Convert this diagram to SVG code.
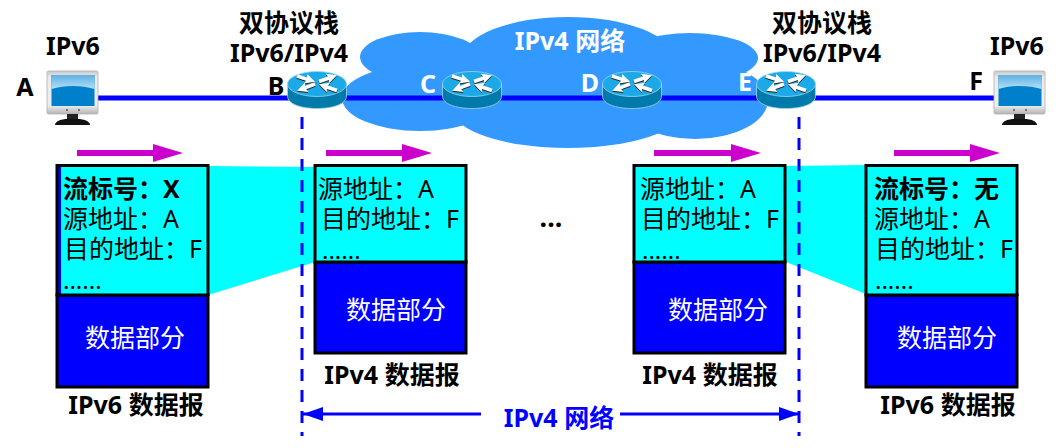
<svg xmlns="http://www.w3.org/2000/svg" xmlns:xlink="http://www.w3.org/1999/xlink" width="1060" height="448" viewBox="0 0 1060 448">
<style>
text{font-family:"Noto Sans","Noto Sans CJK SC",sans-serif;}
.lab{font-size:25px;font-weight:700;fill:#000;text-anchor:middle;}
.wlab{font-size:25px;font-weight:700;fill:#fff;text-anchor:middle;}
.row{font-size:25px;fill:#000;}
.rowb{font-size:25px;fill:#000;font-weight:700;}
.dots{font-size:24px;fill:#000;}
.data{font-size:25px;fill:#fff;text-anchor:middle;}
.cyan{fill:#00ffff;}
.blue{fill:#0000ff;stroke:#000;stroke-width:3;}
.hdr{fill:#00ffff;stroke:#000;stroke-width:3;}
.link{stroke:#0000ff;stroke-width:5;fill:none;}
.dash{stroke:#0000ff;stroke-width:3;stroke-dasharray:12 9;fill:none;}
.span{stroke:#0000ff;stroke-width:3;fill:none;}
.flow{fill:#cc00cc;}
</style>
<defs>
<linearGradient id="bezel" x1="0" y1="0" x2="0" y2="1"><stop offset="0" stop-color="#c8c8c8"/><stop offset="0.15" stop-color="#ececec"/><stop offset="0.8" stop-color="#eeeeee"/><stop offset="1" stop-color="#b4b4b4"/></linearGradient>
<linearGradient id="glass" x1="0" y1="0" x2="0" y2="1"><stop offset="0" stop-color="#5db0e6"/><stop offset="1" stop-color="#b5e0f5"/></linearGradient>
<marker id="spanHead" markerUnits="userSpaceOnUse" markerWidth="20" markerHeight="14" refX="20" refY="7" orient="auto-start-reverse"><path d="M0 0L20 7L0 14Z" fill="#0000ff"/></marker>
<!-- one white router arrow, tail at the origin, pointing along +x -->
<path id="turn" d="M0 -1.8L10 -1.8L9 -5L19 0L9 5L10 1.800L0 1.800Z"/>
<g id="turns">
<use xlink:href="#turn" href="#turn" transform="translate(-20,-21) rotate(18)"/>
<use xlink:href="#turn" href="#turn" transform="translate(2,-15.500) rotate(-19)"/>
<use xlink:href="#turn" href="#turn" transform="translate(-2,-13) rotate(159)"/>
<use xlink:href="#turn" href="#turn" transform="translate(20,-6.500) rotate(199)"/>
</g>
<g id="router">
<path d="M-29.5 -13V-1C-29.5 7 -16 11.500 0 11.500S29.500 7 29.500 -1V-13Z" fill="#0079ab" stroke="#9fd6ea" stroke-width="0.8"/>
<ellipse cx="0" cy="-13" rx="29.5" ry="12.500" fill="#1ba9e8" stroke="#9fd6ea" stroke-width="0.8"/>
<use xlink:href="#turns" href="#turns" y="1" fill="#222"/>
<use xlink:href="#turns" href="#turns" fill="#fff"/>
</g>
<g id="monitor">
<rect x="0" y="0" width="51" height="43" rx="1.500" fill="url(#bezel)" stroke="#b0b0b0" stroke-width="0.8"/>
<rect x="4.500" y="4" width="43" height="31" fill="#0080cb"/>
<path d="M4.500 4H47.500V18C34 14 18 14 4.500 18Z" fill="url(#glass)"/>
<circle cx="20" cy="39" r="1" fill="#555"/><circle cx="32" cy="39" r="1" fill="#555"/>
<rect x="20" y="43" width="11" height="5" fill="#222"/>
<path d="M8 54C8 50 15 48 20 48H31C36 48 43 50 43 54Z" fill="#111"/>
</g>
</defs>

<g id="cloud" fill="#3399ff">
<ellipse cx="568" cy="58" rx="105" ry="41"/>
<ellipse cx="420" cy="57" rx="60" ry="25"/>
<ellipse cx="690" cy="58" rx="68" ry="25"/>
<ellipse cx="420" cy="98" rx="78" ry="33"/>
<ellipse cx="568" cy="110" rx="115" ry="38"/>
<ellipse cx="695" cy="100" rx="73" ry="39"/>
<rect x="420" y="50" width="280" height="70"/>
<text class="wlab" x="570" y="50">IPv4 网络</text>
</g>

<g id="bands">
<path class="cyan" d="M208 166L315 167V262L208 295Z"/>
<path class="cyan" d="M786 166L866 165V294L786 262Z"/>
</g>

<g id="connectors">
<path class="link" d="M98 98H994"/>
<path class="dash" d="M302 117V436"/>
<path class="dash" d="M799 117V436"/>
<path class="span" d="M481 414H303" marker-end="url(#spanHead)"/>
<path class="span" d="M620 414H799" marker-end="url(#spanHead)"/>
</g>

<g id="hostA">
<use xlink:href="#monitor" href="#monitor" x="47" y="71"/>
<text class="lab" x="73" y="55">IPv6</text>
<text class="lab" x="25" y="96">A</text>
</g>
<g id="routerB">
<use xlink:href="#router" href="#router" x="317" y="97"/>
<text class="lab" x="289" y="32">双协议栈</text>
<text class="lab" x="289" y="62">IPv6/IPv4</text>
<text class="lab" x="276" y="95">B</text>
</g>
<g id="routerC">
<use xlink:href="#router" href="#router" x="472" y="97"/>
<text class="wlab" x="428" y="93">C</text>
</g>
<g id="routerD">
<use xlink:href="#router" href="#router" x="632" y="97"/>
<text class="wlab" x="590" y="92">D</text>
</g>
<g id="routerE">
<use xlink:href="#router" href="#router" x="786" y="97"/>
<text class="wlab" x="745" y="91">E</text>
<text class="lab" x="822" y="32">双协议栈</text>
<text class="lab" x="822" y="62">IPv6/IPv4</text>
</g>
<g id="hostF">
<use xlink:href="#monitor" href="#monitor" x="994" y="71"/>
<text class="lab" x="1017" y="55">IPv6</text>
<text class="lab" x="976" y="90">F</text>
</g>

<g id="flows">
<path class="flow" d="M77 150H153V144L183 153L153 162V156H77Z"/>
<path class="flow" d="M326 150H402V144L432 153L402 162V156H326Z"/>
<path class="flow" d="M654 150H731V144L761 153L731 162V156H654Z"/>
<path class="flow" d="M894 150H970V144L1000 153L970 162V156H894Z"/>
</g>

<g id="packetIPv6Left">
<rect class="blue" x="57" y="295" width="151" height="92"/>
<rect x="57" y="165.500" width="151" height="129.500" fill="#0000ff"/>
<rect class="cyan" x="61" y="167" width="146" height="127"/>
<rect x="57" y="165.500" width="151" height="129.500" fill="none" stroke="#000" stroke-width="3"/>
<text class="rowb" x="63" y="198">流标号：X</text>
<text class="row" x="63" y="228">源地址：A</text>
<text class="row" x="64" y="258">目的地址：F</text>
<text class="dots" x="63" y="289">......</text>
<text class="data" x="135" y="347">数据部分</text>
<text class="lab" x="136" y="414">IPv6 数据报</text>
</g>
<g id="packetIPv4B">
<rect class="blue" x="315" y="262" width="151" height="91"/>
<rect class="hdr" x="315" y="165.500" width="151" height="96.500"/>
<text class="row" x="318" y="198">源地址：A</text>
<text class="row" x="321" y="228">目的地址：F</text>
<text class="dots" x="322" y="259">......</text>
<text class="data" x="396" y="319">数据部分</text>
<text class="lab" x="392" y="384">IPv4 数据报</text>
</g>
<text id="ellipsis" x="551" y="227" font-size="27" font-weight="700" text-anchor="middle">...</text>
<g id="packetIPv4E">
<rect class="blue" x="634" y="262" width="151" height="91"/>
<rect class="hdr" x="634" y="165.500" width="151" height="96.500"/>
<text class="row" x="640" y="198">源地址：A</text>
<text class="row" x="641" y="228">目的地址：F</text>
<text class="dots" x="642" y="259">......</text>
<text class="data" x="718" y="319">数据部分</text>
<text class="lab" x="710" y="384">IPv4 数据报</text>
</g>
<g id="packetIPv6Right">
<rect class="blue" x="866" y="295" width="151" height="92"/>
<rect class="hdr" x="866" y="165.500" width="151" height="129.500"/>
<text class="rowb" x="874" y="198">流标号：无</text>
<text class="row" x="874" y="228">源地址：A</text>
<text class="row" x="875" y="258">目的地址：F</text>
<text class="dots" x="875" y="289">......</text>
<text class="data" x="947" y="347">数据部分</text>
<text class="lab" x="948" y="414">IPv6 数据报</text>
</g>
<text id="spanLabel" x="559" y="427" font-size="25" font-weight="700" fill="#0000ff" text-anchor="middle">IPv4 网络</text>
</svg>
